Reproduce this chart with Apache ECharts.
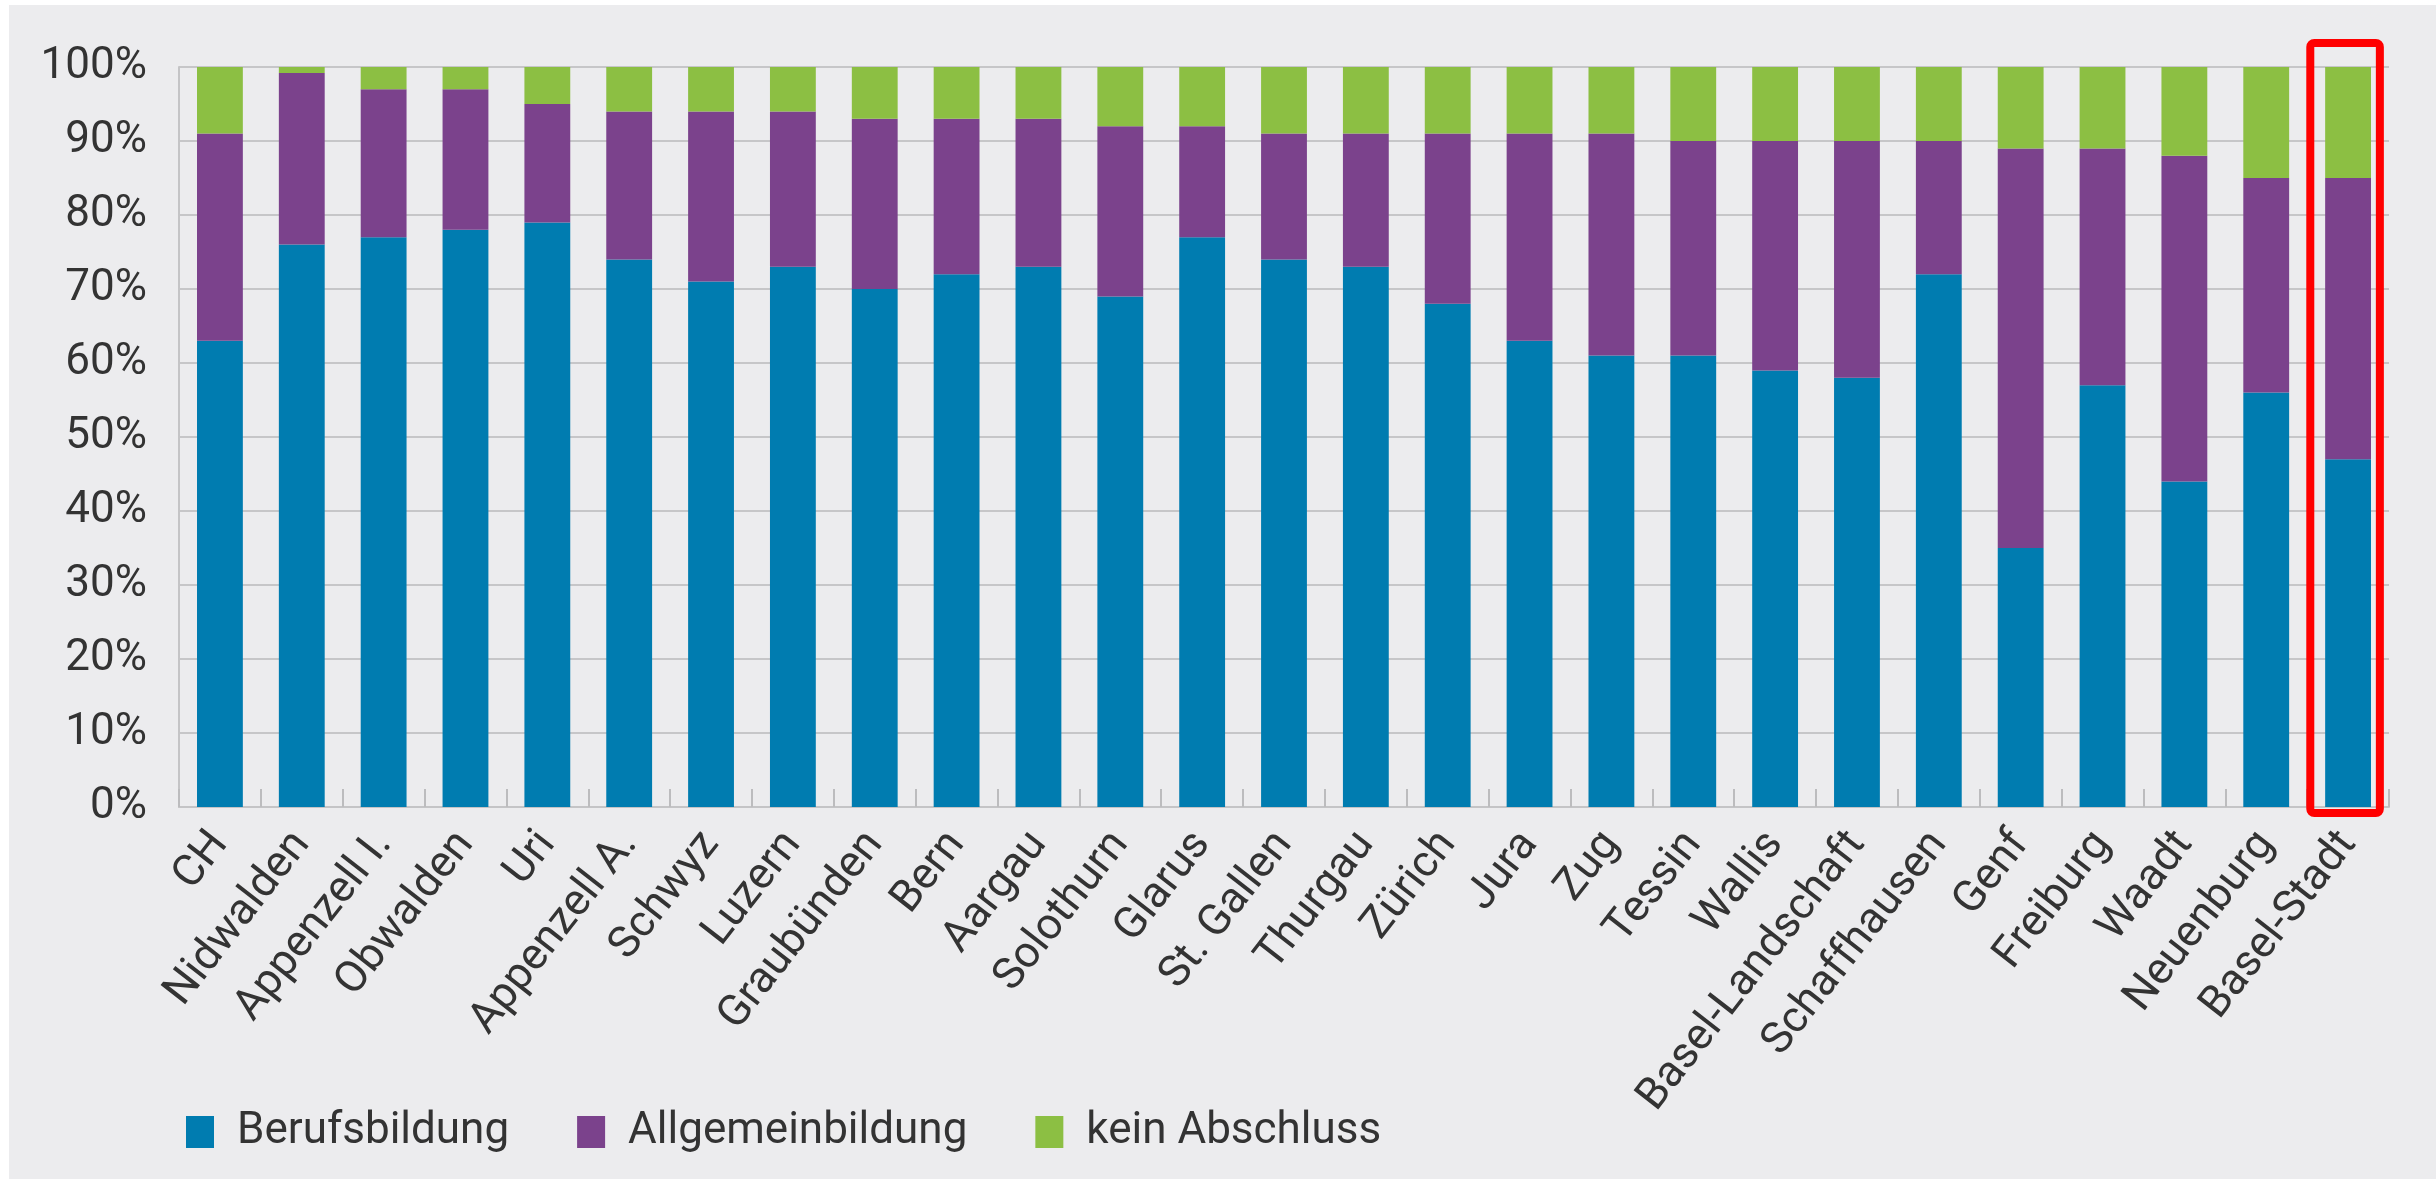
<!DOCTYPE html>
<html>
<head>
<meta charset="utf-8">
<script src="https://cdn.jsdelivr.net/npm/echarts@6/dist/echarts.min.js"></script>
<style>
  html, body { margin: 0; padding: 0; background: #ffffff; }
  #chart { position: absolute; left: 9px; top: 5px; width: 2427px; height: 1174px; background: #ececee; }
</style>
</head>
<body>
<div id="chart"></div>
<script>
// Kantone / Schweiz
var categories = ['CH', 'Nidwalden', 'Appenzell I.', 'Obwalden', 'Uri', 'Appenzell A.', 'Schwyz', 'Luzern',
  'Graubünden', 'Bern', 'Aargau', 'Solothurn', 'Glarus', 'St. Gallen', 'Thurgau', 'Zürich', 'Jura', 'Zug',
  'Tessin', 'Wallis', 'Basel-Landschaft', 'Schaffhausen', 'Genf', 'Freiburg', 'Waadt', 'Neuenburg', 'Basel-Stadt'];

// Anteile in %
var berufsbildung = [63, 76, 77, 78, 79, 74, 71, 73, 70, 72, 73, 69, 77, 74, 73, 68, 63, 61, 61, 59, 58, 72, 35, 57, 44, 56, 47];
var allgemeinbildung = [28, 23.2, 20, 19, 16, 20, 23, 21, 23, 21, 20, 23, 15, 17, 18, 23, 28, 30, 29, 31, 32, 18, 54, 32, 44, 29, 38];
var keinAbschluss = [9, 0.8, 3, 3, 5, 6, 6, 6, 7, 7, 7, 8, 8, 9, 9, 9, 9, 9, 10, 10, 10, 10, 11, 11, 12, 15, 15];

var seriesNames = ['Berufsbildung', 'Allgemeinbildung', 'kein Abschluss'];
var highlighted = 'Basel-Stadt';

var chart = echarts.init(document.getElementById('chart'));
var font = 'Roboto';

var option = {
  animation: false,
  textStyle: { fontFamily: font },
  grid: { left: 170, right: 47, top: 62, bottom: 372 },
  legend: {
    data: seriesNames,
    left: 172,
    top: 1100,
    icon: 'rect',
    itemWidth: 28,
    itemHeight: 32,
    itemGap: 68,
    textStyle: { fontSize: 44, color: '#333333', fontFamily: font, padding: [0, 0, 0, 18] }
  },
  xAxis: {
    type: 'category',
    data: categories,
    axisLine: { lineStyle: { color: '#c4c4c6', width: 2 } },
    axisTick: { show: true, inside: true, length: 18, lineStyle: { color: '#bcbcbe', width: 2 } },
    axisLabel: { interval: 0, rotate: 52, margin: 30, fontSize: 44, color: '#333333', fontFamily: font }
  },
  yAxis: {
    type: 'value',
    min: 0,
    max: 100,
    interval: 10,
    axisLine: { show: true, lineStyle: { color: '#c4c4c6', width: 2 } },
    axisTick: { show: false },
    splitLine: { lineStyle: { color: '#c6c6c8', width: 2 } },
    axisLabel: { formatter: '{value}%', margin: 32, fontSize: 44, color: '#333333', fontFamily: font }
  },
  series: [
    { name: seriesNames[0], type: 'bar', stack: 'a', data: berufsbildung, barCategoryGap: '44%', itemStyle: { color: '#007cb0' } },
    { name: seriesNames[1], type: 'bar', stack: 'a', data: allgemeinbildung, itemStyle: { color: '#7b428c' } },
    { name: seriesNames[2], type: 'bar', stack: 'a', data: keinAbschluss, itemStyle: { color: '#8cbf43' } }
  ]
};

chart.setOption(option);

// roter Rahmen um die hervorgehobene Kategorie, aus den Achsen berechnet
var idx = categories.indexOf(highlighted);
var cx = chart.convertToPixel({ xAxisIndex: 0 }, highlighted);
var band = chart.convertToPixel({ xAxisIndex: 0 }, categories[idx]) - chart.convertToPixel({ xAxisIndex: 0 }, categories[idx - 1]);
var yTop = chart.convertToPixel({ yAxisIndex: 0 }, 100);
var yBottom = chart.convertToPixel({ yAxisIndex: 0 }, 0);
var boxW = band * 0.85;

chart.setOption({
  graphic: [{
    type: 'rect',
    z: 100,
    shape: { x: cx - boxW / 2 - 3, y: yTop - 24, width: boxW, height: yBottom - yTop + 30, r: 4 },
    style: { fill: 'none', stroke: '#ff0000', lineWidth: 8 }
  }]
});
</script>
</body>
</html>
